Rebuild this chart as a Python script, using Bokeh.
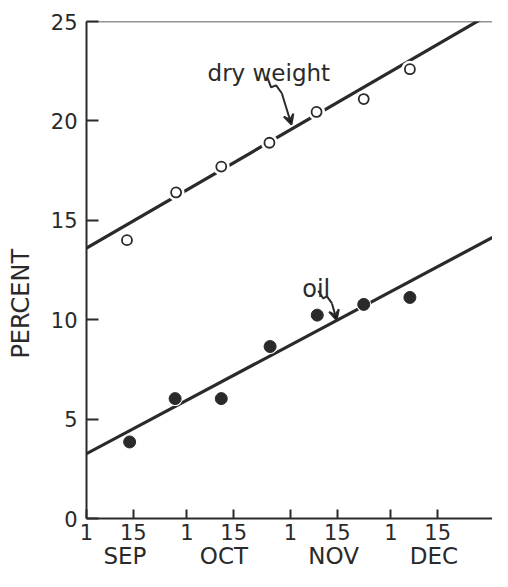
import numpy as np
from bokeh.plotting import figure
from bokeh.models import (Range1d, FixedTicker, LinearAxis, Span, Arrow,
                          VeeHead, Label)
from bokeh.embed import file_html
from bokeh.resources import INLINE

# x values are days after September 1
dry_days = [12.1, 26.8, 40.3, 54.7, 68.8, 82.9, 96.7]
dry_pct = [14.0, 16.4, 17.7, 18.9, 20.45, 21.1, 22.6]
oil_days = [12.9, 26.5, 40.3, 54.9, 69.0, 82.9, 96.7]
oil_pct = [3.85, 6.03, 6.03, 8.65, 10.23, 10.77, 11.12]

# fitted lines (intercept at Sep 1, slope per day)
dry_fit = (13.6, 0.0976)
oil_fit = (3.26, 0.0896)

day_ticks = [0, 14, 30, 44, 61, 75, 91, 105]
day_labels = ["1", "15", "1", "15", "1", "15", "1", "15"]
month_pos = [11.5, 41.1, 73.9, 103.9]
month_labels = ["SEP", "OCT", "NOV", "DEC"]
y_ticks = [0, 5, 10, 15, 20, 25]
y_title = "PERCENT"
y_title_pos = 10.8

ink = "#2a2a2a"
FONT = "DejaVu Sans"

X_MAX = 121.4
p = figure(width=492, height=571, output_backend="svg", toolbar_location=None,
           x_range=Range1d(0, X_MAX), y_range=Range1d(0, 25),
           min_border_left=86, min_border_right=0, min_border_top=21,
           min_border_bottom=50)
p.outline_line_color = None
p.xgrid.visible = False
p.ygrid.visible = False
p.background_fill_color = "white"
p.border_fill_color = "white"

# axes
p.yaxis.ticker = FixedTicker(ticks=y_ticks)
p.yaxis.major_tick_in = 12
p.yaxis.major_tick_out = 0
p.yaxis.minor_tick_line_color = None
p.yaxis.axis_line_width = 2
p.yaxis.axis_line_color = ink
p.yaxis.major_tick_line_width = 2
p.yaxis.major_tick_line_color = ink
p.yaxis.major_label_text_font = FONT
p.yaxis.major_label_text_font_size = "21px"
p.yaxis.major_label_text_color = ink
p.yaxis.major_label_standoff = 9

# y title as an extra left axis so it can sit below centre like the original
taxis = LinearAxis(ticker=FixedTicker(ticks=[y_title_pos]),
                   major_label_overrides={y_title_pos: y_title})
taxis.axis_line_color = None
taxis.major_tick_line_color = None
taxis.minor_tick_line_color = None
taxis.major_tick_in = 0
taxis.major_tick_out = 0
taxis.major_label_orientation = "vertical"
taxis.major_label_standoff = 12
taxis.major_label_text_font = FONT
taxis.major_label_text_font_size = "24px"
taxis.major_label_text_color = ink
p.add_layout(taxis, "left")

p.xaxis.ticker = FixedTicker(ticks=day_ticks)
p.xaxis.major_label_overrides = {t: l for t, l in zip(day_ticks, day_labels)}
p.xaxis.major_tick_in = 9
p.xaxis.major_tick_out = 0
p.xaxis.minor_tick_line_color = None
p.xaxis.axis_line_width = 2
p.xaxis.axis_line_color = ink
p.xaxis.major_tick_line_width = 2
p.xaxis.major_tick_line_color = ink
p.xaxis.major_label_text_font = FONT
p.xaxis.major_label_text_font_size = "21px"
p.xaxis.major_label_text_color = ink
p.xaxis.major_label_standoff = 5

maxis = LinearAxis(ticker=FixedTicker(ticks=month_pos),
                   major_label_overrides={t: l for t, l in zip(month_pos, month_labels)})
maxis.axis_line_color = None
maxis.major_tick_line_color = None
maxis.minor_tick_line_color = None
maxis.major_tick_in = 0
maxis.major_tick_out = 0
maxis.major_label_standoff = 0
maxis.major_label_text_font = FONT
maxis.major_label_text_font_size = "23px"
maxis.major_label_text_color = ink
p.add_layout(maxis, "below")

# top border line
p.add_layout(Span(location=25, dimension="width", line_color=ink, line_width=1.5))

# fitted lines
xs = np.array([0, X_MAX])
p.line(xs, dry_fit[0] + dry_fit[1] * xs, line_color=ink, line_width=3.2)
p.line(xs, oil_fit[0] + oil_fit[1] * xs, line_color=ink, line_width=3.2)

# markers with white halos (gaps in line)
p.scatter(dry_days, dry_pct, size=17, fill_color="white", line_color=None)
p.scatter(dry_days, dry_pct, size=10, fill_color="white", line_color=ink, line_width=1.8)
p.scatter(oil_days, oil_pct, size=15, fill_color="white", line_color=None)
p.scatter(oil_days, oil_pct, size=12, fill_color=ink, line_color=ink)

# annotations
p.add_layout(Label(x=36.2, y=22.43, text="dry weight", text_font=FONT,
                   text_font_size="23px", text_color=ink, text_baseline="alphabetic"))
p.add_layout(Label(x=64.5, y=11.56, text="oil", text_font=FONT,
                   text_font_size="24px", text_color=ink, text_baseline="alphabetic"))

dry_arrow_x = [54.1, 55.2, 56.7, 58.4]
dry_arrow_y = [22.18, 21.69, 21.79, 21.39]
p.line(dry_arrow_x, dry_arrow_y, line_color=ink, line_width=2)
p.add_layout(Arrow(end=VeeHead(size=10, line_color=ink, line_width=2),
                   x_start=58.4, y_start=21.39, x_end=61.3, y_end=19.81,
                   line_color=ink, line_width=2))

oil_arrow_x = [69.3, 70.8, 71.9, 73.4]
oil_arrow_y = [11.46, 11.07, 11.17, 10.82]
p.line(oil_arrow_x, oil_arrow_y, line_color=ink, line_width=2)
p.add_layout(Arrow(end=VeeHead(size=10, line_color=ink, line_width=2),
                   x_start=73.4, y_start=10.82, x_end=74.8, y_end=9.98,
                   line_color=ink, line_width=2))

open("out.html", "w").write(file_html(p, INLINE))
